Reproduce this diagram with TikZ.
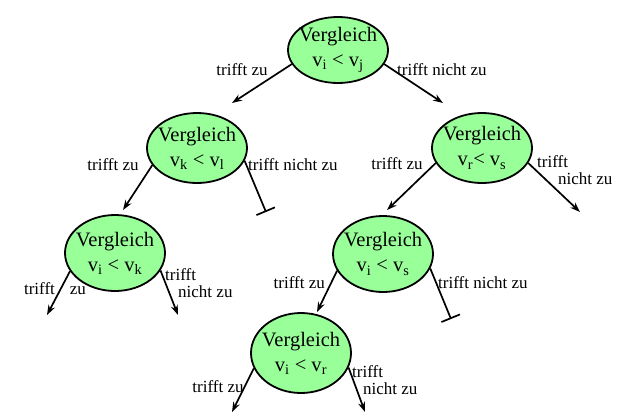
\documentclass[tikz,border=0pt]{standalone}
\usepackage{fontspec}
\setmainfont{Liberation Serif}
\usetikzlibrary{shapes.geometric}
\usetikzlibrary{arrows.meta}
\definecolor{hellgruen}{HTML}{99FF99}

\begin{document}
\begin{tikzpicture}[x=1pt,y=-1pt,
  vgl/.style={ellipse, draw, line width=1.8pt, fill=hellgruen, align=center,
    inner xsep=-6pt, inner ysep=0pt, minimum width=100pt, minimum height=70pt,
    font=\fontsize{20.5}{25}\selectfont},
  lbl/.style={inner sep=0pt, align=left, font=\fontsize{17}{17}\selectfont},
  ja/.style={line width=1.7pt, -{Stealth[length=10pt,width=7pt]}},
  nein/.style={line width=1.7pt, -{Bar[width=20pt]}}]
\useasboundingbox (0,0) rectangle (623,418);

% Vergleiche
\node[vgl, minimum height=66pt] (ij) at (338,50) {Vergleich\\v\textsubscript{i} < v\textsubscript{j}};
\node[vgl] (kl) at (197,148) {Vergleich\\v\textsubscript{k} < v\textsubscript{l}};
\node[vgl] (rs) at (482,148) {Vergleich\\v\textsubscript{r}< v\textsubscript{s}};
\node[vgl, minimum height=76pt] (ik) at (115,253) {Vergleich\\v\textsubscript{i} < v\textsubscript{k}};
\node[vgl, minimum height=76pt] (is) at (383,254) {Vergleich\\v\textsubscript{i} < v\textsubscript{s}};
\node[vgl, minimum height=80pt] (ir) at (301,353) {Vergleich\\v\textsubscript{i} < v\textsubscript{r}};

% freie Enden
\coordinate (ij-ja) at (232,103);
\coordinate (ij-nein) at (443,103);
\coordinate (kl-ja) at (123,210);
\coordinate (kl-nein) at (266,212);
\coordinate (rs-ja) at (387,210);
\coordinate (rs-nein) at (580,212);
\coordinate (ik-ja) at (47,315);
\coordinate (ik-nein) at (178,315);
\coordinate (is-ja) at (317,312);
\coordinate (is-nein) at (451,319);
\coordinate (ir-ja) at (232,412);
\coordinate (ir-nein) at (365,412);

\draw[ja] (ij.197) -- (ij-ja);
\draw[ja] (ij.343) -- (ij-nein);
\draw[ja] (kl.201) -- (kl-ja);
\draw[nein] (kl.345) -- (kl-nein);
\draw[ja] (rs.198) -- (rs-ja);
\draw[ja] (rs.342) -- (rs-nein);
\draw[ja] (ik.202) -- (ik-ja);
\draw[ja] (ik.339) -- (ik-nein);
\draw[ja] (is.200) -- (is-ja);
\draw[nein] (is.343) -- (is-nein);
\draw[ja] (ir.198) -- (ir-ja);
\draw[ja] (ir.343) -- (ir-nein);

% Beschriftungen
\node[lbl] (t-ij-ja) at (242,70) {trifft zu};
\node[lbl, anchor=west] (t-ij-nein) at (397,70) {trifft nicht zu};
\node[lbl] (t-kl-ja) at (113,165) {trifft zu};
\node[lbl, anchor=west] (t-kl-nein) at (248,165) {trifft nicht zu};
\node[lbl] (t-rs-ja) at (397,164) {trifft zu};
\node[lbl, anchor=north west] (t-rs-nein) at (537,155) {trifft\\\hspace*{21pt}nicht zu};
\node[lbl] (t-ik-ja) at (55,289) {trifft\hspace{15pt}zu};
\node[lbl, anchor=north west] (t-ik-nein) at (165,268) {trifft\\\hspace*{13pt}nicht zu};
\node[lbl, anchor=east] (t-is-ja) at (325,283) {trifft zu};
\node[lbl, anchor=west] (t-is-nein) at (438,283) {trifft nicht zu};
\node[lbl] (t-ir-ja) at (218,387) {trifft zu};
\node[lbl, anchor=north west] (t-ir-nein) at (352,365) {trifft\\\hspace*{11pt}nicht zu};
\end{tikzpicture}
\end{document}
